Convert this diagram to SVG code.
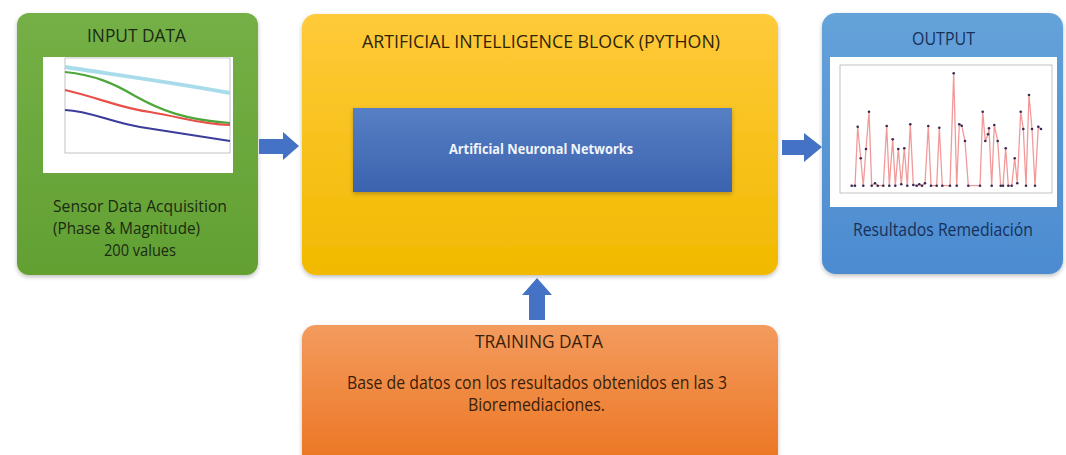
<svg xmlns="http://www.w3.org/2000/svg" width="1066" height="455" viewBox="0 0 1066 455">
  <defs>
    <linearGradient id="gGreen" x1="0" y1="0" x2="0" y2="1">
      <stop offset="0" stop-color="#74B046"/>
      <stop offset="1" stop-color="#62A033"/>
    </linearGradient>
    <linearGradient id="gYellow" x1="0" y1="0" x2="0" y2="1">
      <stop offset="0" stop-color="#FFCA3A"/>
      <stop offset="1" stop-color="#F1BA00"/>
    </linearGradient>
    <linearGradient id="gBlue" x1="0" y1="0" x2="0" y2="1">
      <stop offset="0" stop-color="#65A2DA"/>
      <stop offset="1" stop-color="#4C8BD0"/>
    </linearGradient>
    <linearGradient id="gOrange" x1="0" y1="0" x2="0" y2="1">
      <stop offset="0" stop-color="#F39B5E"/>
      <stop offset="1" stop-color="#EC7420"/>
    </linearGradient>
    <linearGradient id="gInner" x1="0" y1="0" x2="0" y2="1">
      <stop offset="0" stop-color="#577FC4"/>
      <stop offset="1" stop-color="#3B63AE"/>
    </linearGradient>
    <filter id="shadow" x="-5%" y="-5%" width="110%" height="112%">
      <feDropShadow dx="0" dy="2" stdDeviation="2" flood-color="#000" flood-opacity="0.25"/>
    </filter>
    <marker id="dot" viewBox="0 0 4 4" refX="2" refY="2" markerWidth="4" markerHeight="4" markerUnits="userSpaceOnUse">
      <circle cx="2" cy="2" r="1.3" fill="#3a2a55"/>
    </marker>
    <style>
      text { font-family: "Open Sans", "Liberation Sans", sans-serif; }
      .title { font-size: 18.5px; }
      .body { font-size: 17.5px; }
      .tight { font-size: 15.5px; }
      .arrow { fill: #4472C4; }
      .chartbg { fill: #FFFFFF; }
      .frame { fill: none; stroke: #9a9a9a; stroke-width: 0.6; }
    </style>
  </defs>

  <rect width="1066" height="455" fill="#FFFFFF"/>

  <g id="input-data">
    <rect x="17" y="13" width="241" height="262" rx="12" fill="url(#gGreen)" filter="url(#shadow)"/>
    <text class="title" x="87" y="42" textLength="99" lengthAdjust="spacingAndGlyphs" fill="#1B2A12">INPUT DATA</text>
    <rect class="chartbg" x="43" y="57" width="190" height="116"/>
    <rect class="frame" x="65" y="58" width="165" height="95"/>
    <path d="M65,67 C110,74 170,82 230,93" fill="none" stroke="#A9DCEB" stroke-width="4"/>
    <path d="M65,72 C95,75 115,84 135,96 C160,110 185,120 230,123" fill="none" stroke="#4CA63A" stroke-width="2.2"/>
    <path d="M65,90 C100,98 120,108 150,112 C185,118 200,124 230,125" fill="none" stroke="#E8504A" stroke-width="2.2"/>
    <path d="M65,110 C90,111 110,122 140,127 C180,133 205,137 230,141" fill="none" stroke="#3C3C9A" stroke-width="2.2"/>
    <text class="tight" x="53" y="212" textLength="174" lengthAdjust="spacingAndGlyphs" fill="#1B2A12">Sensor Data Acquisition</text>
    <text class="tight" x="53" y="234" textLength="147" lengthAdjust="spacingAndGlyphs" fill="#1B2A12">(Phase &amp; Magnitude)</text>
    <text class="tight" x="104" y="256" textLength="72" lengthAdjust="spacingAndGlyphs" fill="#1B2A12">200 values</text>
  </g>

  <g id="ai-block">
    <rect x="302" y="14" width="476" height="261" rx="14" fill="url(#gYellow)" filter="url(#shadow)"/>
    <text class="title" x="362" y="48" textLength="358" lengthAdjust="spacingAndGlyphs" fill="#2E2408">ARTIFICIAL INTELLIGENCE BLOCK (PYTHON)</text>
  </g>

  <g id="ann">
    <rect x="353" y="108" width="379" height="84" fill="url(#gInner)" filter="url(#shadow)"/>
    <text x="449" y="154" textLength="184" lengthAdjust="spacingAndGlyphs" font-size="13.5" font-weight="bold" fill="#F2F5FB">Artificial Neuronal Networks</text>
  </g>

  <g id="output">
    <rect x="822" y="13" width="241" height="261" rx="14" fill="url(#gBlue)" filter="url(#shadow)"/>
    <text class="title" x="912" y="45" textLength="63" lengthAdjust="spacingAndGlyphs" fill="#17305A">OUTPUT</text>
    <rect class="chartbg" x="830" y="57" width="227" height="150"/>
    <rect class="frame" x="840" y="65" width="212" height="128"/>
    <polyline fill="none" stroke="#F29A9A" stroke-width="1.3" marker-mid="url(#dot)" marker-start="url(#dot)" marker-end="url(#dot)"
      points="851.7,185.7 855,185.7 857.7,126.7 860.7,158.3 863.3,185.7 866,149 869,111.7 871.7,185.7 875,183.3 877.7,185.7 883.3,185.7 886.7,126 889.3,185.7 892.7,139.3 895.3,185.7 898.3,149 901.3,184.3 904.3,148.3 907.3,185.7 910.3,124.3 913.3,185 916.7,185.7 919.3,184.3 922,185.7 925,183.3 928.3,126 931,185.7 936.7,185.7 939.3,127.7 942.3,185.7 950,185.7 953.7,73.3 956.7,185.7 959.3,124.3 961.7,125.7 965,141 968.3,185.7 980,185.7 982.7,111.7 985.3,141 988,134.3 989,128.3 991.7,185.7 994.3,125 997.7,141 1000.7,185.7 1003,185.7 1005.7,148.3 1008.3,185.7 1011.7,185.7 1014.7,158.3 1017.3,183.3 1020.7,111.7 1023.3,129 1026,185.7 1029,95 1032,129 1035,185.7 1038.3,126.7 1041,129"/>
    <text class="title" x="853" y="236" textLength="180" lengthAdjust="spacingAndGlyphs" fill="#17305A">Resultados Remediación</text>
  </g>

  <g id="training-data">
    <rect x="302" y="325" width="476" height="145" rx="14" fill="url(#gOrange)" filter="url(#shadow)"/>
    <text class="title" x="475" y="348" textLength="128" lengthAdjust="spacingAndGlyphs" fill="#3A1E08">TRAINING DATA</text>
    <text class="body" x="347" y="389" textLength="380" lengthAdjust="spacingAndGlyphs" fill="#3A1E08">Base de datos con los resultados obtenidos en las 3</text>
    <text class="body" x="468" y="411" textLength="137" lengthAdjust="spacingAndGlyphs" fill="#3A1E08">Bioremediaciones.</text>
  </g>

  <g id="connectors">
    <polygon class="arrow" points="259,139 283,139 283,132 299,146 283,160 283,154 259,154"/>
    <polygon class="arrow" points="782,140 804,140 804,133 822,147 804,162 804,155 782,155"/>
    <polygon class="arrow" points="529,320 529,295 522,295 537,278 552,295 545,295 545,320"/>
  </g>
</svg>
